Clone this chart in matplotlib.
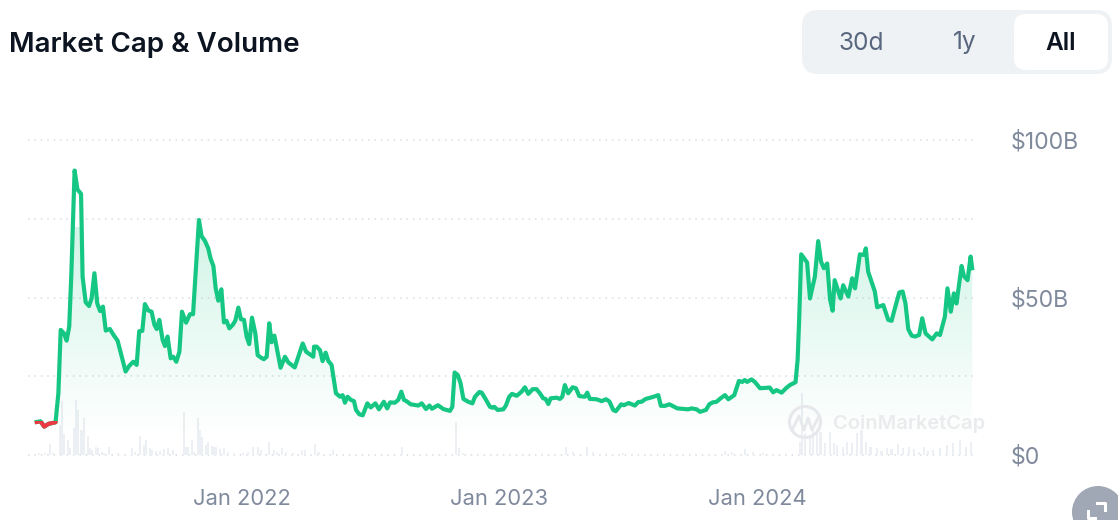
import numpy as np
import matplotlib
matplotlib.use('Agg')
import matplotlib.pyplot as plt
from matplotlib.patches import FancyBboxPatch, Circle, Polygon, Rectangle

plt.rcParams['font.family'] = ['Inter', 'DejaVu Sans']

# Zeit in Jahren seit 2021-01-01, Werte in Milliarden USD
cap_years = [
    .203, .218, .232, .249, .276, .287, .296, .309, .319, .329, .337, .350, .361, .375, .381, .393, .406, .416, .427, .438,
    .449, .460, .471, .487, .503, .517, .548, .562, .578, .591, .601, .613, .623, .636, .649, .660, .669, .679, .692, .701,
    .711, .723, .733, .745, .757, .767, .783, .798, .810, .833, .843, .856, .869, .878, .889, .898, .908, .920, .930, .940,
    .951, .964, .974, .986, .996, 1.008, 1.018, 1.028, 1.039, 1.052, 1.061, 1.074, 1.085, 1.096, 1.106, 1.115, 1.126, 1.137,
    1.150, 1.167, 1.180, 1.205, 1.236, 1.249, 1.277, 1.280, 1.290, 1.303, 1.313, 1.325, 1.335, 1.348, 1.365, 1.381,
    1.391, 1.400, 1.410, 1.423, 1.435, 1.443, 1.456, 1.469, 1.487, 1.500, 1.518, 1.532, 1.551, 1.564, 1.575, 1.594, 1.607,
    1.619, 1.629, 1.639, 1.655, 1.685, 1.698, 1.715, 1.728, 1.738, 1.761, 1.782, 1.808, 1.817, 1.826, 1.838, 1.849, 1.860,
    1.879, 1.895, 1.905, 1.922, 1.931, 1.948, 1.963, 1.973, 1.980, 1.993, 2.015, 2.025, 2.038, 2.049, 2.067, 2.086, 2.099,
    2.112, 2.129, 2.144, 2.157, 2.170, 2.179, 2.190, 2.199, 2.222, 2.235, 2.244, 2.254, 2.267, 2.284, 2.297, 2.310, 2.332,
    2.341, 2.351, 2.377, 2.397, 2.414, 2.427, 2.442, 2.452, 2.473, 2.483, 2.502, 2.526, 2.539, 2.552, 2.568, 2.591, 2.617,
    2.627, 2.643, 2.660, 2.691, 2.733, 2.746, 2.766, 2.779, 2.802, 2.815, 2.828, 2.843, 2.859, 2.876, 2.889, 2.912, 2.930,
    2.943, 2.953, 2.962, 2.979, 2.992, 3.012, 3.050, 3.063, 3.076, 3.096, 3.113, 3.128, 3.150, 3.158, 3.164, 3.172, 3.195,
    3.206, 3.225, 3.238, 3.249, 3.260, 3.273, 3.284, 3.294, 3.302, 3.325, 3.335, 3.355, 3.370, 3.381, 3.400, 3.416, 3.423,
    3.432, 3.458, 3.467, 3.491, 3.510, 3.523, 3.536, 3.553, 3.566, 3.577, 3.588, 3.601, 3.614, 3.630, 3.642, 3.655, 3.681,
    3.698, 3.711, 3.730, 3.740, 3.753, 3.765, 3.775, 3.795, 3.804, 3.818, 3.830, 3.836,
]
cap_values = [
    10.5, 10.7, 9.0, 9.9, 10.4, 19.6, 39.7, 38.6, 36.3, 40.7, 56.6, 90.3, 84.3, 82.9, 56.6, 48.5, 47.3, 49.7, 57.7, 48.1,
    45.7, 47.1, 39.5, 40.0, 37.9, 36.3, 26.5, 28.3, 29.6, 28.6, 39.3, 39.4, 47.9, 45.9, 45.5, 41.3, 40.0, 42.9, 36.5, 34.6,
    37.6, 30.7, 31.2, 29.6, 32.8, 45.5, 42.0, 44.7, 44.7, 74.6, 69.5, 68.0, 65.6, 62.4, 60.0, 52.9, 49.0, 52.6, 42.1, 42.6,
    40.2, 41.3, 42.6, 46.8, 43.1, 42.9, 37.6, 35.2, 43.6, 38.6, 31.7, 30.9, 30.4, 31.2, 41.8, 35.8, 37.9, 33.3,
    27.7, 31.2, 29.4, 27.8, 35.4, 32.8, 31.2, 34.4, 34.4, 33.3, 29.8, 32.5, 29.9, 28.6, 19.6, 18.5,
    19.0, 16.6, 18.5, 17.5, 17.1, 14.3, 12.9, 12.6, 16.4, 15.1, 16.4, 14.5, 16.9, 14.8, 16.7, 16.6, 17.5,
    20.1, 17.5, 17.1, 16.1, 15.7, 16.4, 14.6, 15.7, 14.7, 15.8, 14.6, 14.0, 15.3, 26.2, 25.4, 22.8, 17.8,
    16.9, 16.4, 18.5, 20.0, 19.8, 17.5, 15.3, 15.0, 15.3, 14.3, 14.5, 15.7, 18.5, 19.4, 18.8, 20.1, 21.5,
    19.4, 20.9, 20.9, 19.6, 18.0, 17.8, 16.2, 18.0, 18.2, 17.8, 18.5, 22.2, 19.6, 21.5, 21.2, 18.7, 18.5,
    19.8, 17.8, 17.7, 17.1, 17.7, 17.0, 14.3, 13.9, 16.1, 15.8, 16.5, 15.7, 16.8, 16.9, 17.8, 18.3, 19.0,
    15.6, 15.6, 16.1, 14.8, 14.5, 14.8, 14.5, 13.7, 14.3, 16.1, 16.7, 16.9, 18.0, 19.0, 17.7, 19.0, 23.5,
    23.2, 23.8, 23.2, 24.0, 23.2, 21.2, 21.4, 19.9, 20.6, 19.8, 21.2, 22.2, 23.1, 30.2, 42.8, 63.7, 61.1,
    49.7, 56.6, 67.9, 61.4, 59.3, 60.8, 49.4, 45.8, 55.5, 49.7, 53.9, 50.3, 56.1, 52.9, 63.7, 63.5, 65.6,
    58.2, 51.9, 46.9, 47.6, 42.9, 42.6, 46.6, 51.6, 51.9, 48.1, 39.9, 37.9, 37.6, 38.1, 43.4, 38.6, 36.7,
    38.6, 38.1, 43.9, 52.9, 45.5, 51.3, 48.1, 60.0, 56.8, 55.5, 63.0, 59.3,
]

vol_years = [
    .213, .235, .254, .265, .293, .301, .309, .323, .332, .347, .355, .363, .377, .386, .402, .410, .417, .433, .441, .456,
    .464, .485, .518, .573, .583, .604, .619, .627, .643, .651, .666, .682, .697, .713, .731, .775, .783, .790, .806, .814,
    .829, .837, .845, .860, .868, .884, .891, .899, .915, .930, .946, .969, 1.005, 1.025, 1.044, 1.063, 1.073, 1.106, 1.124,
    1.135, 1.154, 1.170, 1.199, 1.232, 1.245, 1.284, 1.297, 1.355, 1.620, 1.831, 1.844, 1.857, 2.258, 2.287, 2.341, 2.364,
    2.481, 2.876, 2.902, 2.953, 2.986, 3.025, 3.167, 3.175, 3.186, 3.206, 3.219, 3.234, 3.247, 3.264, 3.284, 3.299, 3.312,
    3.333, 3.351, 3.368, 3.390, 3.406, 3.423, 3.441, 3.465, 3.484, 3.504, 3.523, 3.549, 3.568, 3.590, 3.610, 3.630, 3.649,
    3.665, 3.685, 3.711, 3.737, 3.760, 3.788, 3.812, 3.830,
]
vol_values = [
    .7, .7, 3.5, .7, 9.5, 17, 6.7, 4.8, 2.1, 8.5, 17.5, 14.3, 8, 11.6, 6, 2.1, 1.6, 2.6, 2.1, 1.1,
    .7, 2.6, .5, 2.1, 1.1, 6, 3.2, 4.8, 2.1, 1.6, 1.4, 1.4, 1.8, 2.1, 1.6, 13.5, 2.6, 2.6, 4.8, 1.1,
    11.6, 8, 5.8, 3.2, 4.1, 2.9, 2.6, 2.6, 2, 2.1, 1.1, .7, .7, 1.1, 2.6, 2.6, 1.6, 4.1, 1.6,
    1.1, 2.1, 1.1, .7, 1.6, 1.6, 3.5, 1.1, 1.6, 2.6, 10.6, 2.1, .6, 2.6, 1, 2.6, 1,
    .7, 1.4, 1, 1.8, 1, .7, 4.2, 19.8, 6.9, 5.8, 7.9, 6.9, 7.4, 3.7, 7.4, 3.7, 3.2,
    2.6, 4.2, 3.7, 6.9, 7.9, 4.2, 2.6, 2.1, 1.4, 2.1, 1.8, 3.5, 2.1, 2.6, 1.8, 1, 2.6,
    1.4, 1.6, 2.1, 3.2, 3.7, 4.8, 2.6, 4.2,
]

start_value = 10.45
grid_values = [0, 25, 50, 75, 100]
y_labels = ['$0', '', '$50B', '', '$100B']
x_ticks = [1, 2, 3]
x_labels = ['Jan 2022', 'Jan 2023', 'Jan 2024']
range_buttons = ['30d', '1y', 'All']

GREEN = '#16C784'
RED = '#EA3943'
GREY = '#808A9D'

fig = plt.figure(figsize=(11.18, 5.2), dpi=100)
ax = fig.add_axes([28 / 1118, 65 / 520, 947 / 1118, 315 / 520])

# Volumen
ax.bar(vol_years, vol_values, width=0.0085, color='#ECEFF3', zorder=1)

# Verlauf unter der Linie
gradient = np.zeros((64, 2, 4))
gradient[..., :3] = matplotlib.colors.to_rgb(GREEN)
gradient[..., 3] = np.linspace(0.19, 0, 64)[:, None]
img = ax.imshow(gradient, extent=(cap_years[0], cap_years[-1], 5, 72), aspect='auto', origin='upper', zorder=2)
outline = list(zip(cap_years, cap_values)) + [(cap_years[-1], 0), (cap_years[0], 0)]
poly = Polygon(outline, closed=True, transform=ax.transData, facecolor='none', edgecolor='none')
ax.add_patch(poly)
img.set_clip_path(poly)

ax.plot(cap_years, cap_values, color=GREEN, lw=3.0, zorder=4, solid_joinstyle='round')
# unter dem Startwert rot
red_line, = ax.plot(cap_years, cap_values, color=RED, lw=3.0, zorder=5, solid_joinstyle='round')
clip = Rectangle((0, 0), 0.29, start_value + 0.35, transform=ax.transData)
red_line.set_clip_path(clip)

ax.set_xlim(0.169, 3.847)
ax.set_ylim(0, 100)
ax.set_yticks(grid_values)
ax.set_yticklabels(y_labels)
ax.set_xticks(x_ticks)
ax.set_xticklabels(x_labels)
ax.yaxis.tick_right()
ax.tick_params(axis='y', length=0, pad=26, labelsize=16.6, labelcolor=GREY)
ax.tick_params(axis='x', length=0, pad=24.5, labelsize=15.8, labelcolor=GREY)
ax.grid(axis='y', color='#D9DDE3', lw=1.1, linestyle=(0, (1.0, 3.2)), zorder=0, clip_on=False)
ax.set_axisbelow(True)
for s in ax.spines.values():
    s.set_visible(False)

# Titel, Buttons, Wasserzeichen in Pixelkoordinaten
ov = fig.add_axes([0, 0, 1, 1], facecolor='none')
ov.set_xlim(0, 1118)
ov.set_ylim(520, 0)
ov.axis('off')

ov.text(9, 45, 'Market Cap & Volume', fontsize=20, fontweight='semibold', color='#0D1421', va='center', ha='left')

ov.add_patch(FancyBboxPatch((802, 10), 310, 64, boxstyle='round,pad=0,rounding_size=16', fc='#EFF2F5', ec='none'))
ov.add_patch(FancyBboxPatch((1014, 14), 94, 56, boxstyle='round,pad=0,rounding_size=12', fc='white', ec='none'))
button_x = [861, 965, 1061]
for label, x in zip(range_buttons, button_x):
    active = label == 'All'
    ov.text(x, 43, label, fontsize=17.6, ha='center', va='center',
            color='#0D1421' if active else '#58667E', fontweight='semibold' if active else 'normal')

# Wasserzeichen
ov.add_patch(Circle((805, 422), 15.5, fc='none', ec='#E6E8EB', lw=2.2))
ov.plot([792, 799, 804, 808, 812, 818], [430, 416, 430, 418, 430, 418], color='#E6E8EB', lw=2.0)
ov.text(833, 424, 'CoinMarketCap', fontsize=14.5, fontweight='semibold', color='#E6E8EB', alpha=0.85, va='center', ha='left')

# Vergrößern-Button
ov.add_patch(Circle((1098, 512), 26, fc='#A0A7B5', ec='none', clip_on=True))
ov.plot([1097, 1105, 1105], [503, 503, 510], color='white', lw=2.2)
ov.plot([1088, 1088, 1095], [511, 518, 518], color='white', lw=2.2)

plt.savefig('out.png', dpi=100)
plt.close()
